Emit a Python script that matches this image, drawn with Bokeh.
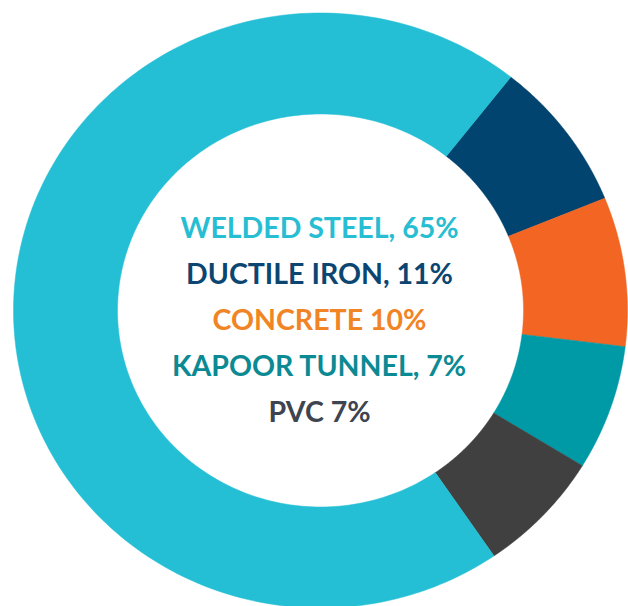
import numpy as np
from bokeh.plotting import figure
from bokeh.models import ColumnDataSource, Range1d
from bokeh.core.properties import value
from bokeh.embed import file_html
from bokeh.resources import INLINE

# ---- data ----
categories = ["WELDED STEEL", "DUCTILE IRON", "CONCRETE", "KAPOOR TUNNEL", "PVC"]
shares = [70.2, 8.2, 8.1, 6.8, 6.7]          # wedge sizes as drawn
labels = ["WELDED STEEL, 65%", "DUCTILE IRON, 11%", "CONCRETE 10%",
          "KAPOOR TUNNEL, 7%", "PVC 7%"]
wedge_colors = ["#24BFD5", "#00446F", "#F26522", "#0099A6", "#404040"]
text_colors = ["#27BED3", "#0B4672", "#F18424", "#0B8A93", "#3E4450"]

W, H = 628, 606
CX, CY = 320, 310
RX_OUT, RY_OUT = 307, 297.5
RX_IN, RY_IN = 203, 196.5
START_DEG = 38.3  # clockwise from top, where DUCTILE IRON begins

p = figure(width=W, height=H, output_backend="svg", toolbar_location=None,
           x_range=Range1d(0, W), y_range=Range1d(H, 0),
           min_border=0, outline_line_color=None, background_fill_color="white",
           border_fill_color="white")
p.axis.visible = False
p.grid.visible = False

# clockwise order starting at the ductile iron slice
order = [1, 2, 3, 4, 0]
total = float(sum(shares))
xs, ys, cols = [], [], []
t = np.deg2rad(START_DEG)
for i in order:
    span = 2 * np.pi * shares[i] / total
    tt = np.linspace(t, t + span, 200)
    ox = CX + RX_OUT * np.sin(tt)
    oy = CY - RY_OUT * np.cos(tt)
    ix = CX + RX_IN * np.sin(tt[::-1])
    iy = CY - RY_IN * np.cos(tt[::-1])
    xs.append(list(np.concatenate([ox, ix])))
    ys.append(list(np.concatenate([oy, iy])))
    cols.append(wedge_colors[i])
    t += span

src = ColumnDataSource(dict(xs=xs, ys=ys, color=cols))
p.patches("xs", "ys", source=src, fill_color="color", line_color="color",
          line_width=0.5)

spacing = 46
ty = [CY - 84 + k * spacing for k in range(len(labels))]
tsrc = ColumnDataSource(dict(x=[319] * len(labels), y=ty, text=labels,
                             color=text_colors))
p.text("x", "y", text="text", source=tsrc, text_color="color",
       text_align="center", text_baseline="middle",
       text_font=value("Lato"), text_font_style="bold",
       text_font_size="28.5px")

open("out.html", "w").write(file_html(p, INLINE))
